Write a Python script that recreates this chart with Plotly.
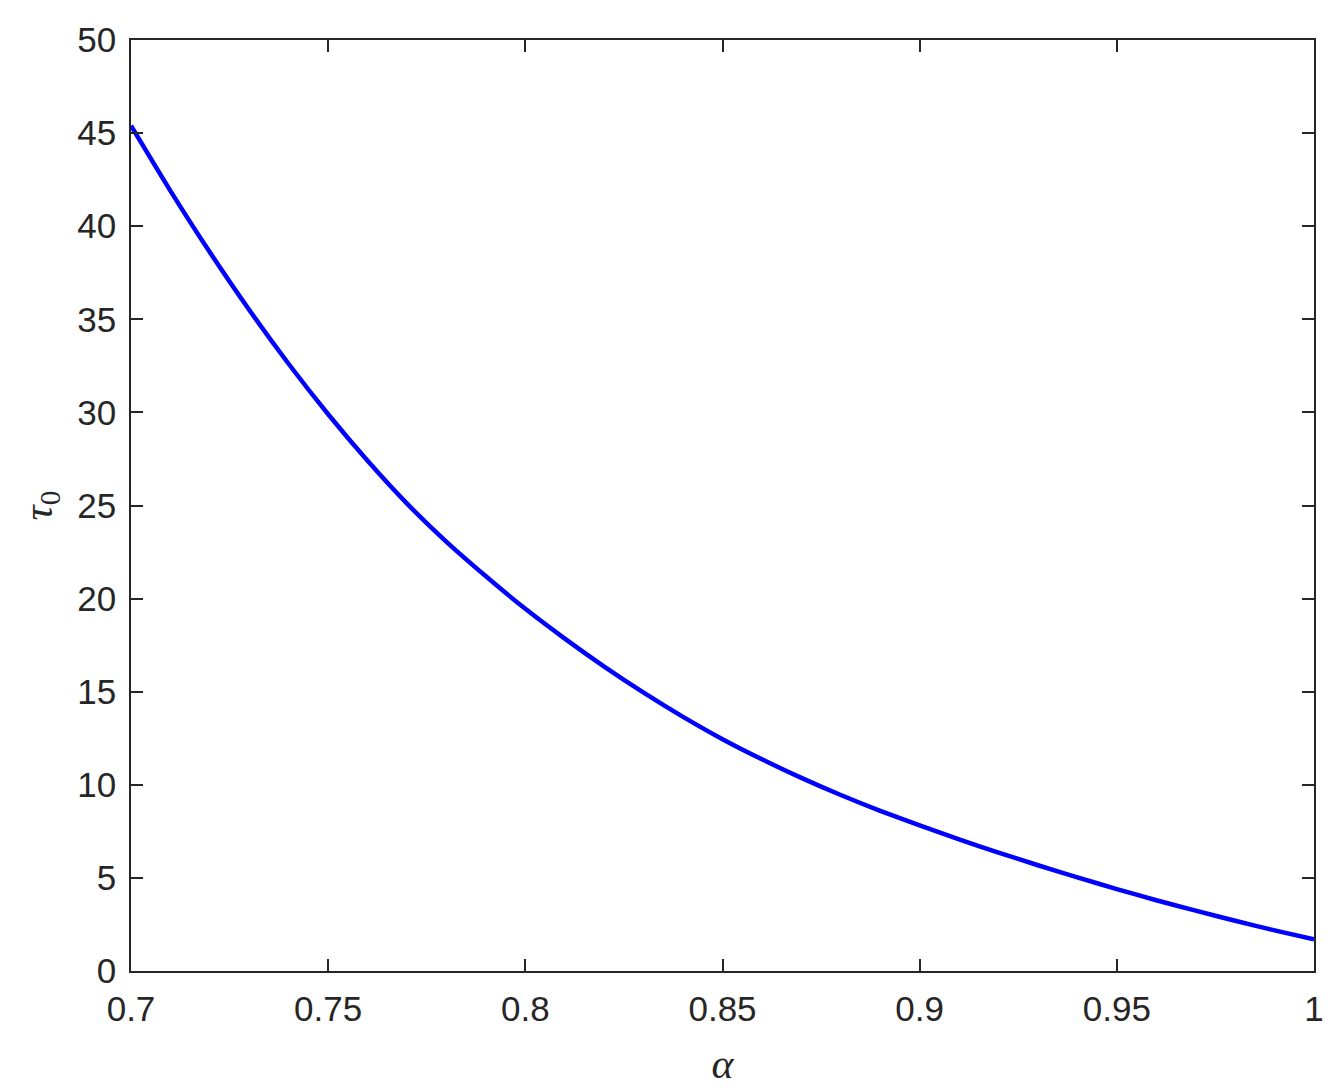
import plotly.graph_objects as go

alpha = [0.70, 0.71, 0.72, 0.73, 0.74, 0.75, 0.76, 0.77, 0.78, 0.79, 0.80,
         0.81, 0.82, 0.83, 0.84, 0.85, 0.86, 0.87, 0.88, 0.89, 0.90,
         0.91, 0.92, 0.93, 0.94, 0.95, 0.96, 0.97, 0.98, 0.99, 1.00]
tau0 = [45.4, 41.9, 38.6, 35.5, 32.6, 29.9, 27.4, 25.1, 23.05, 21.2, 19.45,
        17.85, 16.35, 14.95, 13.65, 12.45, 11.37, 10.37, 9.45, 8.60, 7.82,
        7.07, 6.36, 5.68, 5.03, 4.40, 3.80, 3.24, 2.70, 2.18, 1.70]

x_ticks = [0.7, 0.75, 0.8, 0.85, 0.9, 0.95, 1]
x_ticklabels = ["0.7", "0.75", "0.8", "0.85", "0.9", "0.95", "1"]
y_ticks = [0, 5, 10, 15, 20, 25, 30, 35, 40, 45, 50]

fig = go.Figure()
fig.add_trace(go.Scatter(x=alpha, y=tau0, mode="lines",
                         line=dict(color="#0000FF", width=4.5, shape="spline", smoothing=0.6),
                         showlegend=False))

axis_common = dict(showline=True, linecolor="#262626", linewidth=1.5,
                   mirror="ticks", ticks="inside", ticklen=12, tickwidth=1.5,
                   tickcolor="#262626", showgrid=False, zeroline=False,
                   tickfont=dict(family="Liberation Sans, Arial", size=35, color="#262626"))

fig.update_layout(
    width=1334, height=1091,
    margin=dict(l=123, r=28, t=22, b=128),
    paper_bgcolor="white", plot_bgcolor="white",
    xaxis=dict(range=[0.7, 1], tickvals=x_ticks, ticktext=x_ticklabels,
               ticklabelstandoff=6,
               title=dict(text="<i>α</i>", standoff=22,
                          font=dict(family="Liberation Serif, Times New Roman", size=42, color="#262626")),
               **axis_common),
    yaxis=dict(range=[0, 50], tickvals=y_ticks, ticklabelstandoff=6,
               title=dict(text="<i>τ</i><sub>0</sub>", standoff=12,
                          font=dict(family="Liberation Serif, Times New Roman", size=42, color="#262626")),
               **axis_common),
)

fig.write_html("out.html")
